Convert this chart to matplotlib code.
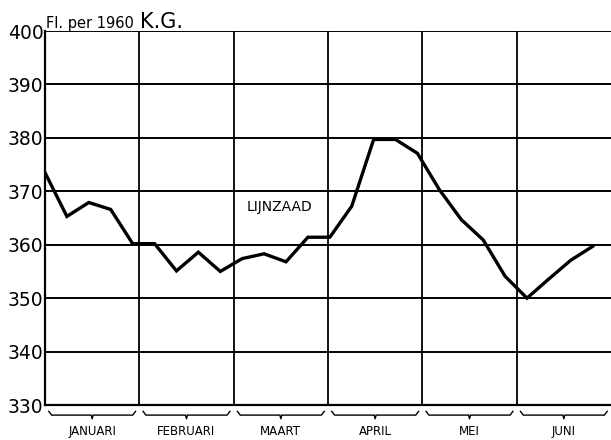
import numpy as np
import matplotlib.pyplot as plt
from matplotlib.transforms import blended_transform_factory

maanden = ['JANUARI', 'FEBRUARI', 'MAART', 'APRIL', 'MEI', 'JUNI']
dagen = np.arange(26) * 7  # weekly quotations
prijs = [373.5, 365.3, 367.9, 366.6, 360.2, 360.2, 355.1, 358.6, 355.0,
         357.4, 358.3, 356.8, 361.4, 361.4, 367.2, 379.7, 379.7, 377.1,
         370.3, 364.7, 360.9, 354.1, 350.0, 353.6, 357.1, 359.7]
y_ticks = [330, 340, 350, 360, 370, 380, 390, 400]
maand_dagen = 30.14

fig = plt.figure(figsize=(6.11, 4.40), dpi=100)
ax = fig.add_axes([45 / 611, 1 - 405 / 440, 1 - 45 / 611, (405 - 31) / 440])

x = np.array(dagen) / maand_dagen
n = len(maanden)
ax.set_xlim(0, n)
ax.set_ylim(330, 400)

for yt in y_ticks[1:]:
    ax.axhline(yt, color='black', lw=1.4, zorder=1)
for m in range(1, n):
    ax.axvline(m, color='black', lw=1.3, zorder=1)

ax.plot(x, prijs, color='black', lw=2.4, solid_joinstyle='miter', zorder=3)

for s in ['top', 'right']:
    ax.spines[s].set_visible(False)
ax.spines['left'].set_linewidth(1.6)
ax.spines['bottom'].set_linewidth(1.6)

ax.set_yticks(y_ticks)
ax.set_yticklabels([str(v) for v in y_ticks], fontsize=13.5)
ax.tick_params(axis='y', length=0, pad=1)
ax.set_xticks([])

# braces with month names under the axis
tr = blended_transform_factory(ax.transData, ax.transAxes)
for i, naam in enumerate(maanden):
    a, b = i + 0.04, i + 0.96
    bx = [a, a + 0.03, a + 0.45, i + 0.5, b - 0.45, b - 0.03, b]
    by = [-0.017, -0.027, -0.027, -0.037, -0.027, -0.027, -0.017]
    ax.plot(bx, by, color='black', lw=1.0, transform=tr, clip_on=False)
    ax.text(i + 0.5, -0.072, naam, transform=tr, ha='center', va='center',
            fontsize=8.5)

ax.text(2.49, 367, 'LIJNZAAD', ha='center', va='center', fontsize=10)

fig.text(46 / 611, 1 - 28 / 440, 'Fl. per 1960', fontsize=10.5, va='baseline')
fig.text(140 / 611, 1 - 28 / 440, 'K.G.', fontsize=15, va='baseline')

fig.savefig('out.png', dpi=100)
